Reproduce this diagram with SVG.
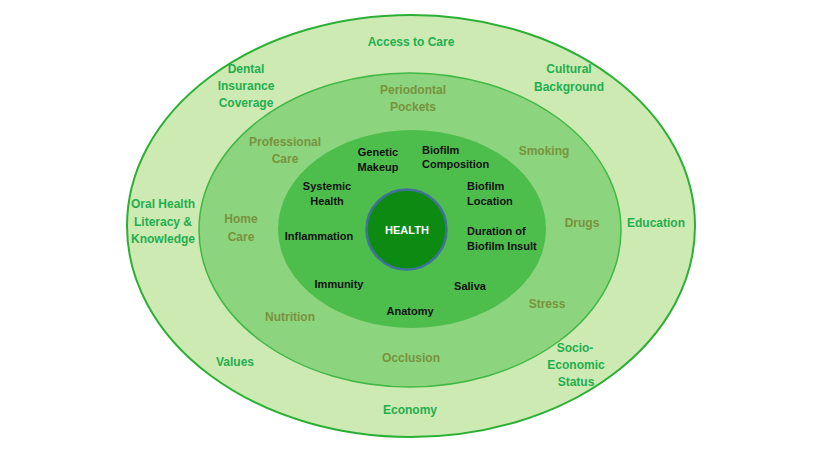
<svg xmlns="http://www.w3.org/2000/svg" width="819" height="452" viewBox="0 0 819 452">
<style>
text{font-family:"Liberation Sans",Arial,sans-serif;font-weight:bold;text-anchor:middle}
.o{fill:#1FAE4F;font-size:12px}
.m{fill:#77933C;font-size:12px}
.i{fill:#111;font-size:11px}
.l{text-anchor:start}
.h{fill:#fff;font-size:11px}
</style>
<rect width="819" height="452" fill="#fff"/>
<g id="ring-outer">
<ellipse cx="411" cy="226" rx="284" ry="211" fill="#CDEAB3" stroke="#2BAF35" stroke-width="2"/>
</g>
<g id="ring-middle">
<ellipse cx="410" cy="230" rx="211" ry="157" fill="#8DD47F" stroke="#40B844" stroke-width="1.5"/>
</g>
<g id="ring-inner">
<ellipse cx="412" cy="229" rx="134" ry="99" fill="#4DBE4C"/>
</g>
<g id="health">
<circle cx="406.5" cy="229.5" r="40" fill="#0C8A12" stroke="#41719C" stroke-width="2.5"/>
<text class="h" x="407" y="234">HEALTH</text>
</g>
<g id="connectors"></g>
<g id="outer-labels">
<text class="o" x="411" y="46">Access to Care</text>
<text class="o" x="246" y="73">Dental</text>
<text class="o" x="246" y="90">Insurance</text>
<text class="o" x="246" y="107">Coverage</text>
<text class="o" x="569" y="73">Cultural</text>
<text class="o" x="569" y="91">Background</text>
<text class="o" x="163" y="208">Oral Health</text>
<text class="o" x="163" y="226">Literacy &amp;</text>
<text class="o" x="163" y="243">Knowledge</text>
<text class="o" x="656" y="227">Education</text>
<text class="o" x="235" y="366">Values</text>
<text class="o" x="575" y="352">Socio-</text>
<text class="o" x="576" y="369">Economic</text>
<text class="o" x="576" y="386">Status</text>
<text class="o" x="410" y="414">Economy</text>
</g>
<g id="middle-labels">
<text class="m" x="413" y="94">Periodontal</text>
<text class="m" x="413" y="111">Pockets</text>
<text class="m" x="285" y="146">Professional</text>
<text class="m" x="285" y="163">Care</text>
<text class="m" x="544" y="155">Smoking</text>
<text class="m" x="241" y="223">Home</text>
<text class="m" x="241" y="241">Care</text>
<text class="m" x="582" y="227">Drugs</text>
<text class="m" x="290" y="321">Nutrition</text>
<text class="m" x="547" y="308">Stress</text>
<text class="m" x="411" y="362">Occlusion</text>
</g>
<g id="inner-labels">
<text class="i" x="378" y="156">Genetic</text>
<text class="i" x="378" y="171">Makeup</text>
<text class="i l" x="422" y="154">Biofilm</text>
<text class="i l" x="422" y="168">Composition</text>
<text class="i" x="327" y="190">Systemic</text>
<text class="i" x="327" y="205">Health</text>
<text class="i l" x="467" y="190">Biofilm</text>
<text class="i l" x="467" y="205">Location</text>
<text class="i" x="319" y="240">Inflammation</text>
<text class="i l" x="467" y="235">Duration of</text>
<text class="i l" x="467" y="250">Biofilm Insult</text>
<text class="i" x="339" y="288">Immunity</text>
<text class="i" x="470" y="290">Saliva</text>
<text class="i" x="410" y="315">Anatomy</text>
</g>
</svg>
